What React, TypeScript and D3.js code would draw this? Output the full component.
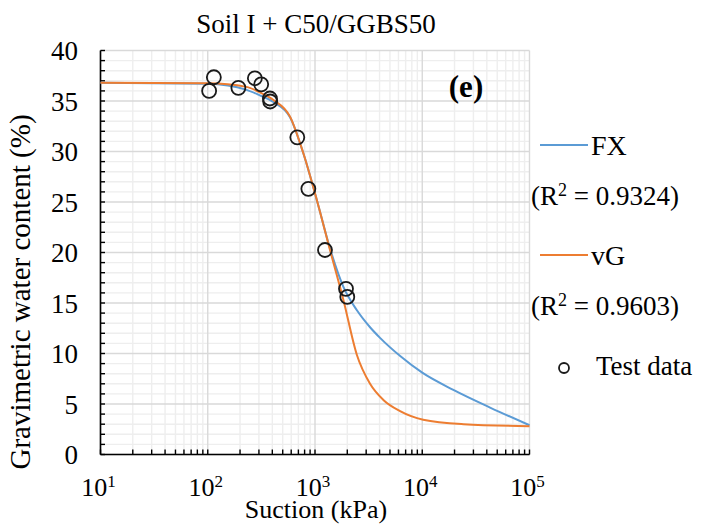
import React from 'react';
import * as d3 from 'd3';

// suction (kPa) decades and water content ticks
const decades = [10, 100, 1000, 10000, 100000];
const decadeExp = ['1', '2', '3', '4', '5'];
const waterMajor = [0, 5, 10, 15, 20, 25, 30, 35, 40];

// test data
const testSuction = [103, 114, 193, 275, 315, 380, 382, 684, 867, 1239, 1945, 2000];
const testWater = [36.0, 37.35, 36.3, 37.25, 36.65, 35.25, 34.95, 31.4, 26.3, 20.25, 16.4, 15.6];

// FX fit
const fxSuction = [10, 100, 230, 300, 410, 585, 780, 1040, 1380, 1840, 2450, 3260, 4040, 6310, 10000, 19500, 42900, 100000];
const fxWater = [36.8, 36.7, 36.1, 35.6, 34.9, 33.4, 29.8, 25.2, 20.4, 16.6, 14.3, 12.6, 11.55, 9.7, 8.1, 6.4, 4.65, 2.9];

// vG fit
const vgSuction = [10, 100, 230, 300, 410, 585, 780, 1040, 1380, 1840, 2450, 3260, 4340, 6210, 10200, 24200, 100000];
const vgWater = [36.8, 36.75, 36.4, 35.9, 35.1, 33.45, 29.8, 25.2, 20.25, 15.3, 9.9, 7.0, 5.4, 4.3, 3.45, 3.0, 2.8];

const legendItems = [
	{ name: 'FX', r2: '0.9324', color: '#5B9BD5' },
	{ name: 'vG', r2: '0.9603', color: '#ED7D31' },
];

const W = 703;
const H = 525;
const left = 100.5;
const right = 529.5;
const top = 50.5;
const bottom = 454.5;
const font = '"Liberation Serif", "Times New Roman", serif';

const App = () => {
	const x = d3.scaleLog().domain([10, 100000]).range([left, right]);
	const y = d3.scaleLinear().domain([0, 40]).range([bottom, top]);

	const minorX: number[] = [];
	decades.slice(0, -1).forEach((d) => {
		for (let k = 2; k <= 9; k++) minorX.push(d * k);
	});
	const allY = d3.range(0, 41);
	const minorY = allY.filter((v) => v % 5 !== 0);

	const line = d3.line<[number, number]>()
		.x((d) => x(d[0]))
		.y((d) => y(d[1]))
		.curve(d3.curveMonotoneX);

	const fxPath = line(fxSuction.map((s, i) => [s, fxWater[i]]));
	const vgPath = line(vgSuction.map((s, i) => [s, vgWater[i]]));

	return (
		<svg width={ W } height={ H } style={ { position: 'absolute', left: 0, top: 0, background: '#fff' } }
			fontFamily={ font }>
			{/* minor grid */}
			{ minorX.map((v) => (
				<line key={ `mx${ v }` } x1={ x(v) } x2={ x(v) } y1={ top } y2={ bottom } stroke="#eeeeee" strokeWidth={ 1.4 }/>
			)) }
			{ minorY.map((v) => (
				<line key={ `my${ v }` } x1={ left } x2={ right } y1={ y(v) } y2={ y(v) } stroke="#eeeeee" strokeWidth={ 1.4 }/>
			)) }
			{/* major grid */}
			{ decades.map((v) => (
				<line key={ `Mx${ v }` } x1={ x(v) } x2={ x(v) } y1={ top } y2={ bottom } stroke="#d9d9d9" strokeWidth={ 1.4 }/>
			)) }
			{ waterMajor.map((v) => (
				<line key={ `My${ v }` } x1={ left } x2={ right } y1={ y(v) } y2={ y(v) } stroke="#d9d9d9" strokeWidth={ 1.4 }/>
			)) }

			{/* axes */}
			<line x1={ left } x2={ left } y1={ top } y2={ bottom } stroke="#000" strokeWidth={ 1.6 }/>
			<line x1={ left } x2={ right } y1={ bottom } y2={ bottom } stroke="#000" strokeWidth={ 1.6 }/>
			{ allY.map((v) => (
				<line key={ `ty${ v }` } x1={ left } x2={ left + 4.5 } y1={ y(v) } y2={ y(v) } stroke="#000" strokeWidth={ 1.4 }/>
			)) }
			{ [...minorX, ...decades].map((v) => (
				<line key={ `tx${ v }` } x1={ x(v) } x2={ x(v) } y1={ bottom } y2={ bottom - 5 } stroke="#000" strokeWidth={ 1.4 }/>
			)) }

			{/* tick labels */}
			{ waterMajor.map((v) => (
				<text key={ `ly${ v }` } x={ 78 } y={ y(v) + 9.5 } textAnchor="end" fontSize={ 27 } fill="#000">{ v }</text>
			)) }
			{ decades.map((v, i) => (
				<text key={ `lx${ v }` } x={ x(v) - 2 } y={ 496 } textAnchor="middle" fontSize={ 26 } fill="#000">
					10<tspan fontSize={ 17 } dy={ -9 }>{ decadeExp[i] }</tspan>
				</text>
			)) }

			{/* curves */}
			<path d={ fxPath ?? '' } fill="none" stroke="#5B9BD5" strokeWidth={ 2 }/>
			<path d={ vgPath ?? '' } fill="none" stroke="#ED7D31" strokeWidth={ 2 }/>

			{/* test data */}
			{ testSuction.map((s, i) => (
				<circle key={ `p${ i }` } cx={ x(s) } cy={ y(testWater[i]) } r={ 7 } fill="none" stroke="#1a1a1a" strokeWidth={ 1.8 }/>
			)) }

			{/* titles */}
			<text x={ 316 } y={ 33 } textAnchor="middle" fontSize={ 27 } fill="#000">Soil I + C50/GGBS50</text>
			<text x={ 316 } y={ 518 } textAnchor="middle" fontSize={ 26 } fill="#000">Suction (kPa)</text>
			<text transform="translate(30,292) rotate(-90)" textAnchor="middle" fontSize={ 29 } fill="#000">
				Gravimetric water content (%)
			</text>
			<text x={ 466 } y={ 97 } textAnchor="middle" fontSize={ 31 } fontWeight="bold" fill="#000">(e)</text>

			{/* legend */}
			{ legendItems.map((d, i) => (
				<g key={ d.name } transform={ `translate(0,${ i * 110 })` }>
					<line x1={ 540 } x2={ 588 } y1={ 145 } y2={ 145 } stroke={ d.color } strokeWidth={ 2 }/>
					<text x={ 591 } y={ 155 } fontSize={ 28 } fill="#000">{ d.name }</text>
					<text x={ 531 } y={ 205 } fontSize={ 27 } fill="#000">
						(R<tspan fontSize={ 18 } dy={ -9 }>2</tspan><tspan dy={ 9 }> = { d.r2 })</tspan>
					</text>
				</g>
			)) }
			<circle cx={ 564 } cy={ 368 } r={ 5 } fill="none" stroke="#1a1a1a" strokeWidth={ 1.8 }/>
			<text x={ 596 } y={ 375 } fontSize={ 27 } fill="#000">Test data</text>
		</svg>
	);
};

export default App;
